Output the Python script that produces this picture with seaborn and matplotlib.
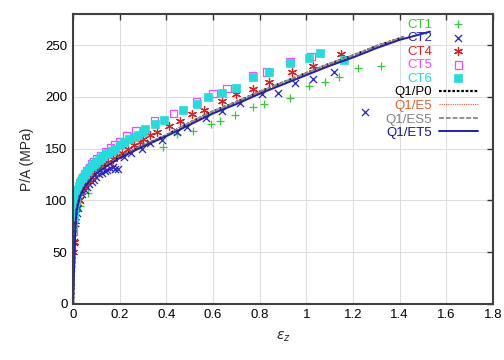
import numpy as np
import pandas as pd
import matplotlib
matplotlib.use("Agg")
import matplotlib.pyplot as plt
import seaborn as sns

# --- measured data (strain, P/A) ---
ct1_x = [0.01, 0.03, 0.064, 0.386, 0.446, 0.514, 0.59, 0.63, 0.694, 0.77, 0.82, 0.93, 1.01, 1.08, 1.14, 1.22, 1.32]
ct1_y = [75, 95, 107, 152, 164, 167, 174, 177, 182, 190, 193, 199, 210, 214, 219, 228, 230]

ct2_x = [0.005, 0.01, 0.015, 0.02, 0.03, 0.04, 0.05, 0.06, 0.07, 0.08, 0.09, 0.10, 0.11, 0.124,
         0.135, 0.146, 0.16, 0.17, 0.18, 0.193, 0.22, 0.25, 0.296, 0.33, 0.38, 0.446, 0.49, 0.57,
         0.64, 0.716, 0.81, 0.88, 0.95, 1.03, 1.12, 1.25]
ct2_y = [60, 78, 88, 93, 100, 106, 110, 113, 116, 118, 120, 123, 125, 126,
         128, 129, 131, 132, 130, 130, 142, 146, 150, 155, 158, 166, 171, 180,
         186, 194, 203, 204, 213, 217, 224, 185]

ct4_x = [0.0, 0.002, 0.01, 0.027, 0.035, 0.045, 0.055, 0.065, 0.075, 0.085, 0.095, 0.105, 0.118,
         0.13, 0.15, 0.17, 0.19, 0.21, 0.235, 0.26, 0.285, 0.30, 0.33, 0.36, 0.41, 0.46, 0.51,
         0.56, 0.64, 0.70, 0.77, 0.84, 0.94, 1.03, 1.15]
ct4_y = [50, 60, 80, 100, 108, 113, 117, 120, 123, 126, 128, 130, 132,
         135, 137, 140, 143, 146, 150, 153, 156, 159, 163, 166, 172, 177, 183,
         187, 196, 203, 208, 214, 224, 230, 241]

ct5_x = [0.0, 0.005, 0.01, 0.02, 0.03, 0.04, 0.05, 0.06, 0.07, 0.08, 0.09, 0.10, 0.12, 0.14, 0.16,
         0.18, 0.20, 0.23, 0.27, 0.35, 0.43, 0.53, 0.60, 0.66, 0.77, 0.83, 0.93, 1.02]
ct5_y = [70, 90, 100, 110, 117, 122, 126, 129, 132, 135, 137, 140, 143, 147, 151,
         154, 157, 162, 167, 177, 184, 195, 203, 208, 220, 224, 234, 239]

ct6_x = [0.0, 0.002, 0.004, 0.008, 0.012, 0.016, 0.02, 0.025, 0.03, 0.035, 0.04, 0.045, 0.05, 0.06,
         0.07, 0.08, 0.09, 0.10, 0.11, 0.12, 0.13, 0.14, 0.15, 0.165, 0.18, 0.20, 0.22, 0.24, 0.26,
         0.28, 0.30, 0.31, 0.35, 0.39, 0.47, 0.53, 0.58, 0.64, 0.70, 0.77, 0.84, 0.93, 1.01, 1.06, 1.16]
ct6_y = [72, 83, 91, 98, 103, 107, 110, 114, 117, 119, 121, 123, 125, 128,
         130, 133, 135, 137, 139, 141, 143, 145, 146, 148, 150, 153, 156, 159, 161,
         163, 166, 169, 174, 178, 187, 193, 200, 204, 209, 219, 224, 233, 238, 242, 236]

# --- model curves ---
q1_x = [0, 0.005, 0.01, 0.015, 0.02, 0.03, 0.05, 0.075, 0.1, 0.15, 0.2, 0.3, 0.4, 0.5,
        0.6, 0.7, 0.8, 0.9, 1.0, 1.1, 1.2, 1.3, 1.42]
q1_y = [0, 40, 75, 90, 96, 105, 114, 121, 127, 135, 142, 153, 163, 175,
        186, 195, 205, 214, 223, 232, 240, 249, 258]
et5_x = [0, 0.005, 0.01, 0.015, 0.02, 0.03, 0.05, 0.075, 0.1, 0.15, 0.2, 0.3, 0.4, 0.5,
         0.6, 0.7, 0.8, 0.9, 1.0, 1.1, 1.2, 1.3, 1.4, 1.53]
et5_y = [0, 40, 75, 90, 95, 104, 113, 120, 126, 134, 141, 152, 162, 173,
         184, 193, 203, 212, 221, 230, 238, 247, 255, 263]

xtick_vals = [0, 0.2, 0.4, 0.6, 0.8, 1.0, 1.2, 1.4, 1.6, 1.8]
xtick_labels = ["0", "0.2", "0.4", "0.6", "0.8", "1", "1.2", "1.4", "1.6", "1.8"]
ytick_vals = [0, 50, 100, 150, 200, 250]

sns.set_style("whitegrid")
plt.rcParams["font.family"] = ["Liberation Sans", "DejaVu Sans"]
plt.rcParams["mathtext.fontset"] = "dejavusans"

fig = plt.figure(figsize=(5.04, 3.6), dpi=100)
ax = fig.add_axes([0.145, 0.156, 0.833, 0.805])

# markers
scatter_specs = [
    ("CT1", ct1_x, ct1_y, "+", "#33cc33", 30, None),
    ("CT2", ct2_x, ct2_y, "x", "#2222cc", 26, None),
    ("CT4", ct4_x, ct4_y, (6, 2, 0), "#e02020", 34, None),
    ("CT5", ct5_x, ct5_y, "s", "#ff44ff", 28, "none"),
    ("CT6", ct6_x, ct6_y, "s", "#22dddd", 28, "fill"),
]
for name, xs, ys, mk, col, sz, fill in scatter_specs:
    df = pd.DataFrame({"x": xs, "y": ys})
    if fill == "none":
        sns.scatterplot(data=df, x="x", y="y", ax=ax, marker=mk, s=sz,
                        facecolors="none", edgecolor=col, linewidth=0.9, label=name)
    elif fill == "fill":
        sns.scatterplot(data=df, x="x", y="y", ax=ax, marker=mk, s=sz,
                        color=col, edgecolor=col, linewidth=0.5, label=name)
    else:
        sns.scatterplot(data=df, x="x", y="y", ax=ax, marker=mk, s=sz,
                        color=col, linewidth=0.9, label=name)

# model lines
line_specs = [
    ("Q1/P0", q1_x, q1_y, "#000000", (0, (1.2, 0.8)), 1.6),
    ("Q1/E5", q1_x, q1_y, "#e06030", (0, (1, 1)), 0.8),
    ("Q1/ES5", q1_x, q1_y, "#909090", (0, (2.5, 1)), 1.4),
    ("Q1/ET5", et5_x, et5_y, "#2020b0", "-", 1.4),
]
for name, xs, ys, col, ls, lw in line_specs:
    df = pd.DataFrame({"x": xs, "y": ys})
    sns.lineplot(data=df, x="x", y="y", ax=ax, color=col, linestyle=ls,
                 linewidth=lw, label=name, sort=False)

ax.set_xlim(0, 1.8)
ax.set_ylim(0, 280)
ax.set_xticks(xtick_vals)
ax.set_xticklabels(xtick_labels)
ax.set_yticks(ytick_vals)
ax.tick_params(axis="both", direction="in", length=4, width=1, color="#333333",
               labelsize=9.5, labelcolor="black", top=True, right=True, pad=4)
ax.grid(True, color="#dcdcdc", linewidth=0.7)
for sp in ax.spines.values():
    sp.set_color("#404040")
    sp.set_linewidth(1.5)

ax.set_xlabel(r"$\varepsilon_z$", fontsize=10, labelpad=6)
ax.set_ylabel("P/A (MPa)", fontsize=10, labelpad=8)

# gnuplot-style key: right-aligned coloured labels, sample to the right
text_colors = ["#33cc33", "#2222cc", "#e02020", "#ff44ff", "#22dddd",
               "#000000", "#e06030", "#808080", "#1010a0"]
leg = ax.legend(loc="upper right", bbox_to_anchor=(0.965, 0.985), frameon=False,
                markerfirst=False, fontsize=9.5, handlelength=3.0, handletextpad=0.5,
                labelspacing=0.1, borderaxespad=0.0, borderpad=0.0)
for t, c in zip(leg.get_texts(), text_colors):
    t.set_color(c)

fig.savefig("out.png", dpi=100)
